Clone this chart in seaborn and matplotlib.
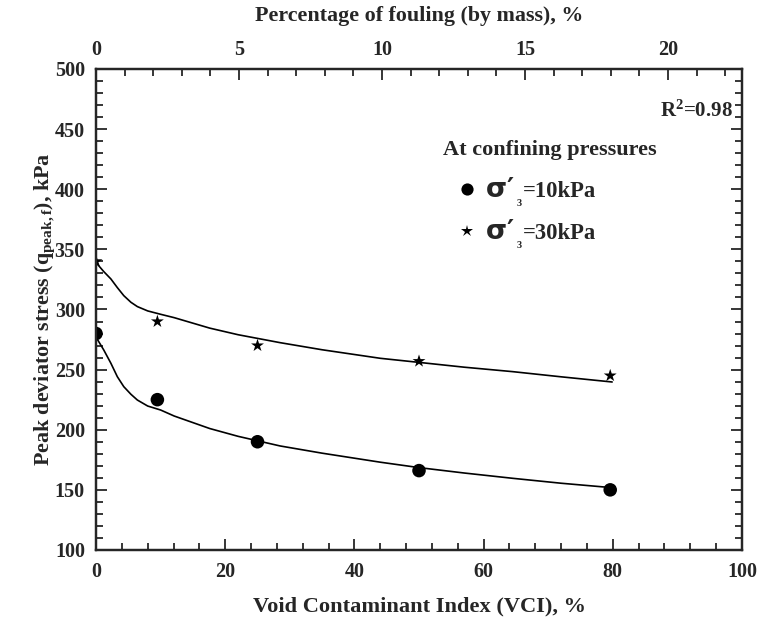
import numpy as np
import pandas as pd
import matplotlib
matplotlib.use("Agg")
import matplotlib.pyplot as plt
from matplotlib.ticker import MultipleLocator
from matplotlib.transforms import IdentityTransform
import seaborn as sns

# ---- data ----
vci = [0, 9.5, 25, 50, 79.6]
q_10kpa = [280, 225, 190, 166, 150]
q_30kpa = [340, 290, 270, 257, 245]

# fitted trend curves
fit_vci = [0, 1.2, 2.3, 3.3, 4.3, 5.4, 6.4, 8.0, 10.0, 12.1, 17.6, 22, 28.5,
           35, 44, 50, 57, 64.5, 72, 79.9]
fit_10kpa = [277, 266.3, 255.3, 244.1, 235.8, 229.5, 224.7, 219.7, 216.4, 211.4,
             201, 194.5, 186.5, 180.5, 173, 168.5, 164, 159.6, 155.5, 151.8]
fit_30kpa = [339, 331.5, 325.4, 318.2, 311.5, 306, 302.4, 298.8, 296, 293.2,
             284.5, 279, 272.4, 266.5, 259.4, 256, 252, 248.3, 244, 239.7]

series_names = ["=10kPa", "=30kPa"]
top_max = 22.59

sns.set_theme(style="ticks")
plt.rcParams["font.family"] = ["Liberation Serif", "DejaVu Serif"]
plt.rcParams["font.weight"] = "bold"
plt.rcParams["mathtext.fontset"] = "custom"
plt.rcParams["mathtext.rm"] = "Liberation Serif:bold"
plt.rcParams["mathtext.bf"] = "Liberation Serif:bold"
plt.rcParams["mathtext.it"] = "Liberation Serif:italic:bold"
plt.rcParams["mathtext.sf"] = "DejaVu Sans:bold"

pts = pd.DataFrame({
    "VCI": vci * 2,
    "q": q_10kpa + q_30kpa,
    "series": [series_names[0]] * len(vci) + [series_names[1]] * len(vci),
})
fits = pd.DataFrame({
    "VCI": fit_vci * 2,
    "q": fit_10kpa + fit_30kpa,
    "series": ["a"] * len(fit_vci) + ["b"] * len(fit_vci),
})

fig = plt.figure(figsize=(7.59, 6.22), dpi=100)
ax = fig.add_axes([0.1265, 0.1158, 0.8511, 0.7733])

sns.lineplot(data=fits, x="VCI", y="q", units="series", estimator=None,
             color="black", lw=1.2, ax=ax, legend=False, sort=False)
sns.scatterplot(data=pts, x="VCI", y="q", style="series",
                markers={series_names[0]: "o", series_names[1]: "*"},
                hue="series", palette={series_names[0]: "black", series_names[1]: "black"},
                s=95, edgecolor="black", linewidth=0, ax=ax, zorder=3)

ax.set_xlim(0, 100)
ax.set_ylim(100, 500)
ax.xaxis.set_major_locator(MultipleLocator(20))
ax.xaxis.set_minor_locator(MultipleLocator(4))
ax.yaxis.set_major_locator(MultipleLocator(50))
ax.yaxis.set_minor_locator(MultipleLocator(10))
ax.tick_params(which="both", direction="in", right=True, width=1.3, labelsize=14.5)
ax.tick_params(which="major", length=8)
ax.tick_params(axis="x", which="major", pad=9)
ax.tick_params(axis="y", which="major", pad=8)
ax.tick_params(which="minor", length=5)
for s in ax.spines.values():
    s.set_linewidth(1.6)
    s.set_color("black")
for lab in ax.get_xticklabels() + ax.get_yticklabels():
    lab.set_fontweight("bold")

ax.set_xlabel("Void Contaminant Index (VCI), %", fontsize=16.1, fontweight="bold", labelpad=10)
ax.set_ylabel(r"Peak deviator stress (q$_{\mathbf{peak,f}}$), kPa", fontsize=15.8,
              fontweight="bold", labelpad=-2)

ax2 = ax.twiny()
ax2.set_xlim(0, top_max)
ax2.xaxis.set_major_locator(MultipleLocator(5))
ax2.xaxis.set_minor_locator(MultipleLocator(1))
ax2.tick_params(which="both", direction="in", width=1.3, labelsize=14.5)
ax2.tick_params(which="major", length=8, pad=6.5)
ax2.tick_params(which="minor", length=5)
for lab in ax2.get_xticklabels():
    lab.set_fontweight("bold")
ax2.set_xlabel("Percentage of fouling (by mass), %", fontsize=15.8, fontweight="bold", labelpad=14)
for s in ax2.spines.values():
    s.set_linewidth(1.6)

ax.text(0.986, 0.913, r"R$^{\mathbf{2}}$=0.98", transform=ax.transAxes, ha="right",
        va="center", fontsize=15, fontweight="bold")

leg = ax.legend(frameon=False, title="At confining pressures", loc="upper left",
                bbox_to_anchor=(0.5234, 0.8705), fontsize=16.3, title_fontsize=16,
                alignment="left", handlelength=2.08, handletextpad=1.45,
                labelspacing=0.92, markerscale=0.9, borderaxespad=0)
leg.get_title().set_fontweight("bold")

# sigma'_3 prefix drawn in front of each legend label
fig.canvas.draw()
ident = IdentityTransform()
for t in leg.get_texts():
    x0, yb = t.get_transform().transform(t.get_position())
    fig.text(x0 - 8, yb, r"$\mathsf{\sigma\prime}$", fontsize=19.5,
             ha="right", va="baseline", transform=ident)
    fig.text(x0 - 7.5, yb - 9, r"$\mathbf{3}$", fontsize=7.5,
             ha="left", va="baseline", transform=ident)

fig.savefig("out.png", dpi=100)
